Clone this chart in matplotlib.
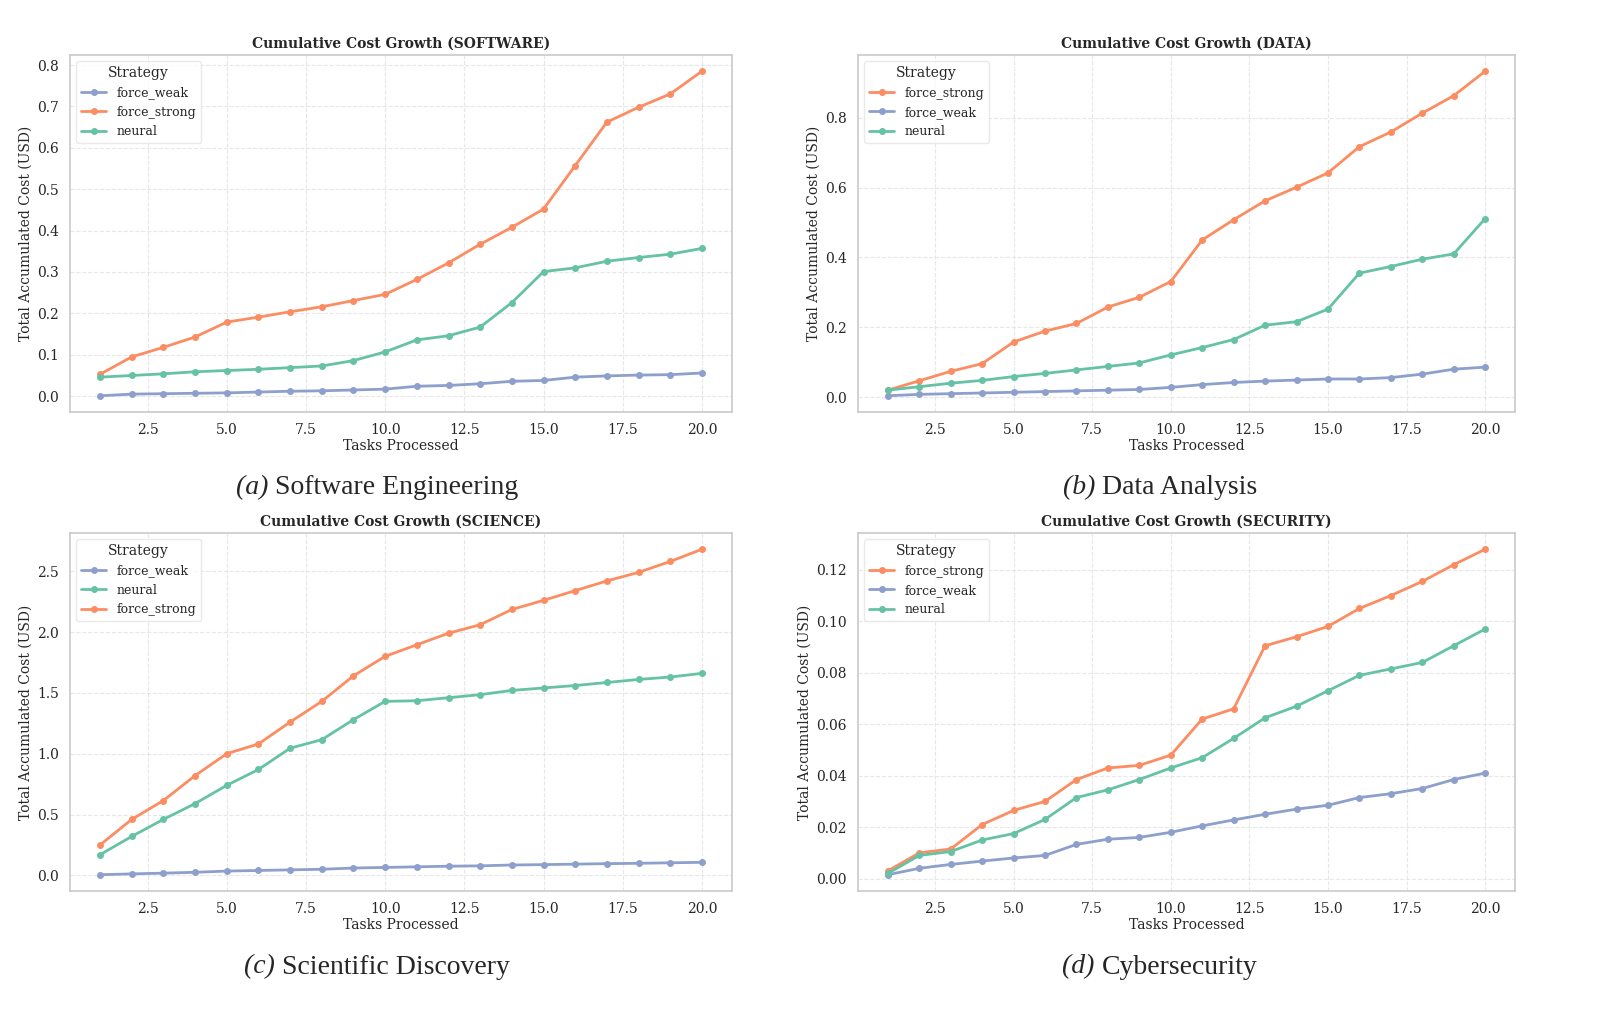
import numpy as np
import matplotlib
matplotlib.use("Agg")
import matplotlib.pyplot as plt
import seaborn as sns

sns.set_theme(style="whitegrid")
plt.rcParams['font.family'] = ['DejaVu Serif']
plt.rcParams['grid.linestyle'] = '--'
plt.rcParams['grid.alpha'] = 0.7

tasks = np.arange(1, 21)

# SOFTWARE
sw_weak = [0.001, 0.005, 0.006, 0.007, 0.008, 0.010, 0.012, 0.013, 0.015, 0.017,
           0.024, 0.026, 0.030, 0.036, 0.038, 0.046, 0.049, 0.051, 0.052, 0.056]
sw_strong = [0.053, 0.095, 0.118, 0.143, 0.179, 0.191, 0.204, 0.216, 0.231, 0.246,
             0.282, 0.322, 0.367, 0.408, 0.452, 0.557, 0.662, 0.698, 0.730, 0.785]
sw_neural = [0.046, 0.050, 0.054, 0.059, 0.062, 0.065, 0.069, 0.073, 0.086, 0.107,
             0.136, 0.146, 0.167, 0.226, 0.301, 0.310, 0.326, 0.335, 0.343, 0.357]

# DATA
da_strong = [0.020, 0.047, 0.074, 0.096, 0.158, 0.189, 0.211, 0.258, 0.286, 0.331,
             0.450, 0.508, 0.562, 0.601, 0.642, 0.717, 0.759, 0.813, 0.863, 0.933]
da_weak = [0.004, 0.008, 0.010, 0.012, 0.014, 0.016, 0.018, 0.020, 0.022, 0.028,
           0.036, 0.042, 0.046, 0.049, 0.052, 0.052, 0.056, 0.066, 0.080, 0.086]
da_neural = [0.020, 0.030, 0.040, 0.048, 0.059, 0.068, 0.078, 0.088, 0.098, 0.121,
             0.142, 0.165, 0.206, 0.216, 0.252, 0.355, 0.374, 0.395, 0.410, 0.511]

# SCIENCE
sc_weak = [0.005, 0.012, 0.018, 0.025, 0.035, 0.040, 0.045, 0.050, 0.060, 0.065,
           0.070, 0.075, 0.078, 0.085, 0.088, 0.092, 0.096, 0.099, 0.103, 0.107]
sc_neural = [0.17, 0.32, 0.46, 0.59, 0.74, 0.87, 1.045, 1.115, 1.28, 1.43,
             1.435, 1.46, 1.485, 1.52, 1.54, 1.56, 1.585, 1.61, 1.63, 1.66]
sc_strong = [0.25, 0.46, 0.615, 0.82, 1.00, 1.08, 1.26, 1.43, 1.64, 1.80,
             1.895, 1.99, 2.06, 2.185, 2.26, 2.34, 2.42, 2.49, 2.58, 2.68]

# SECURITY
se_strong = [0.003, 0.010, 0.0115, 0.021, 0.0265, 0.030, 0.0385, 0.043, 0.044, 0.048,
             0.062, 0.066, 0.0905, 0.094, 0.098, 0.105, 0.110, 0.1155, 0.122, 0.128]
se_weak = [0.0015, 0.004, 0.0055, 0.0068, 0.008, 0.009, 0.0133, 0.0153, 0.016, 0.018,
           0.0205, 0.0228, 0.025, 0.027, 0.0285, 0.0315, 0.033, 0.035, 0.0385, 0.041]
se_neural = [0.002, 0.009, 0.0105, 0.015, 0.0175, 0.023, 0.0315, 0.0345, 0.0385, 0.043,
             0.047, 0.0545, 0.0625, 0.067, 0.073, 0.079, 0.0815, 0.084, 0.0905, 0.097]

colors = {"force_weak": "#8da0cb", "force_strong": "#fc8d62", "neural": "#66c2a5"}

panels = [
    ("SOFTWARE", [("force_weak", sw_weak), ("force_strong", sw_strong), ("neural", sw_neural)],
     "(a)", "Software Engineering"),
    ("DATA", [("force_strong", da_strong), ("force_weak", da_weak), ("neural", da_neural)],
     "(b)", "Data Analysis"),
    ("SCIENCE", [("force_weak", sc_weak), ("neural", sc_neural), ("force_strong", sc_strong)],
     "(c)", "Scientific Discovery"),
    ("SECURITY", [("force_strong", se_strong), ("force_weak", se_weak), ("neural", se_neural)],
     "(d)", "Cybersecurity"),
]

W, H = 1620, 1022
fig = plt.figure(figsize=(W / 100, H / 100), dpi=100)

# axes boxes in pixels: left, top, right, bottom
boxes = [(70, 55, 732, 412), (858, 55, 1515, 412),
         (70, 533, 732, 891), (858, 533, 1515, 891)]
cap_pos = [(377, 488), (1160, 488), (377, 967), (1160, 967)]

for (dom, series, tag, name), (l, t, r, b), (cx, cy) in zip(panels, boxes, cap_pos):
    ax = fig.add_axes([l / W, 1 - b / H, (r - l) / W, (b - t) / H])
    for lab, vals in series:
        ax.plot(tasks, vals, marker='o', markersize=4, linewidth=2,
                color=colors[lab], label=lab)
    ax.set_title(f"Cumulative Cost Growth ({dom})", fontsize=10, fontweight='bold', pad=5)
    ax.set_xlabel("Tasks Processed", fontsize=10, labelpad=1)
    ax.set_ylabel("Total Accumulated Cost (USD)", fontsize=10, labelpad=3)
    ax.tick_params(labelsize=10, pad=2)
    ax.grid(True, linestyle='--', color='#dddddd', linewidth=0.8)
    for s in ax.spines.values():
        s.set_color('#cccccc')
    leg = ax.legend(title="Strategy", loc='upper left', fontsize=9, title_fontsize=10,
                    frameon=True)
    leg.get_frame().set_edgecolor('#e5e5e5')

    # caption: italic tag + roman name, centred together
    y = 1 - cy / H
    t1 = fig.text(0, y, tag + " ", fontsize=20, style='italic',
                  family='Liberation Serif', va='center')
    t2 = fig.text(0, y, name, fontsize=20, family='Liberation Serif', va='center')
    fig.canvas.draw()
    w1 = t1.get_window_extent().width
    w2 = t2.get_window_extent().width
    x0 = cx - (w1 + w2) / 2
    t1.set_x(x0 / W)
    t2.set_x((x0 + w1) / W)

fig.savefig("out.png", dpi=100)
